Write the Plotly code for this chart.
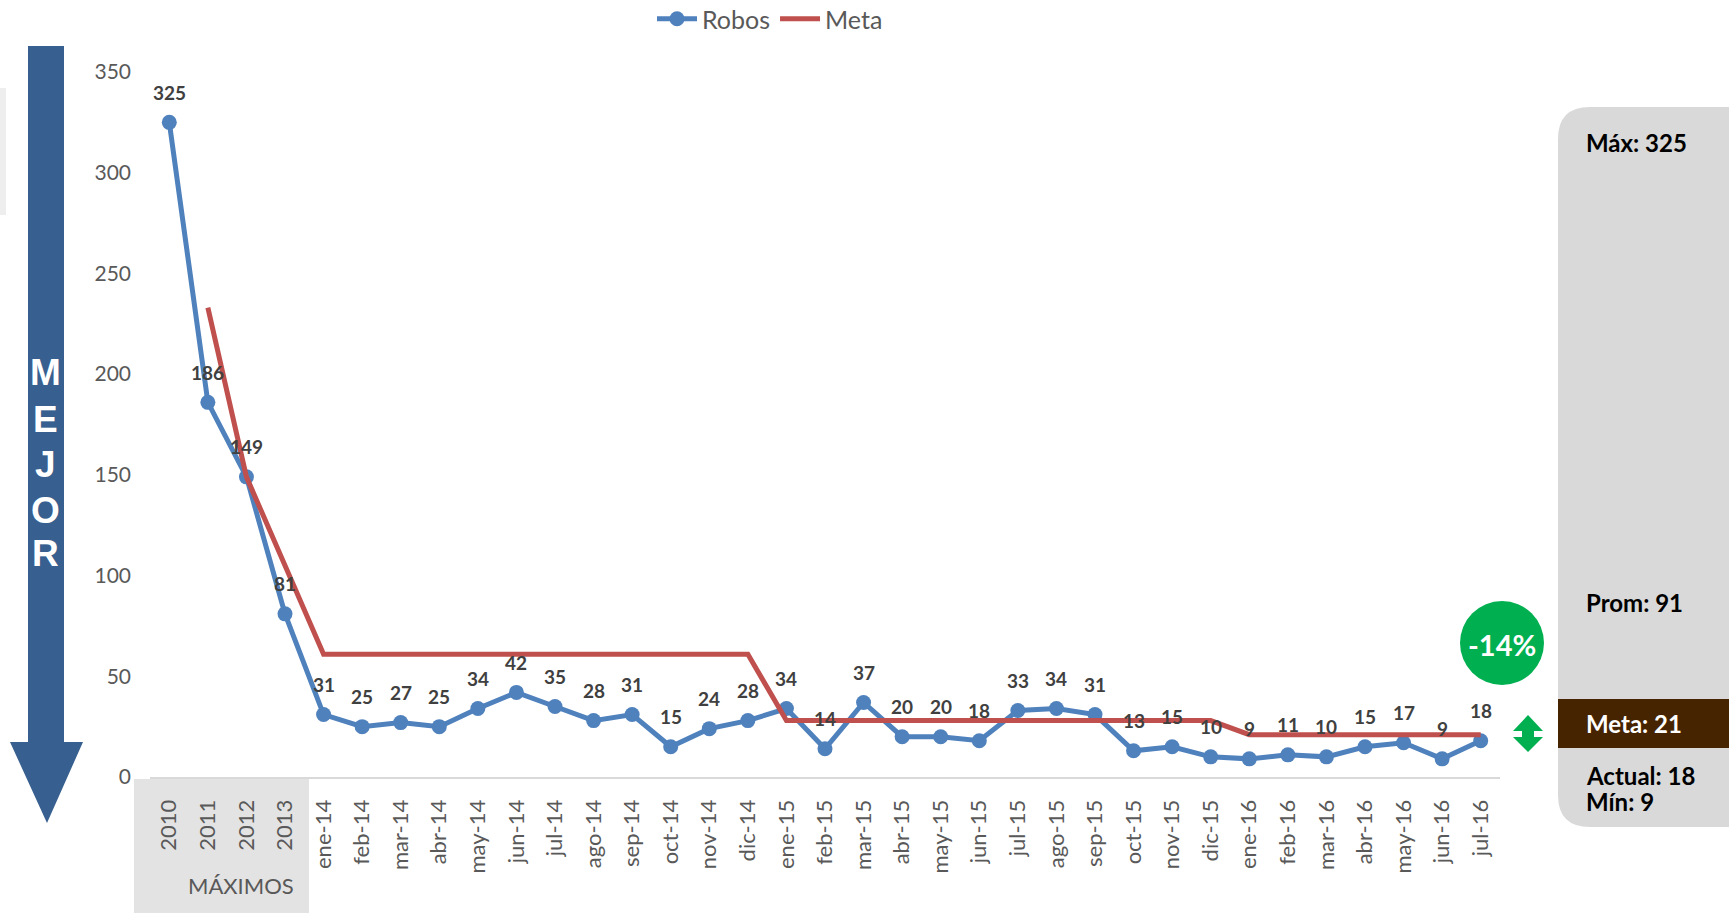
import plotly.graph_objects as go

# ---------------- data ----------------
categories = ["2010", "2011", "2012", "2013",
              "ene-14", "feb-14", "mar-14", "abr-14", "may-14", "jun-14", "jul-14", "ago-14",
              "sep-14", "oct-14", "nov-14", "dic-14",
              "ene-15", "feb-15", "mar-15", "abr-15", "may-15", "jun-15", "jul-15", "ago-15",
              "sep-15", "oct-15", "nov-15", "dic-15",
              "ene-16", "feb-16", "mar-16", "abr-16", "may-16", "jun-16", "jul-16"]
robos = [325, 186, 149, 81,
         31, 25, 27, 25, 34, 42, 35, 28, 31, 15, 24, 28,
         34, 14, 37, 20, 20, 18, 33, 34, 31, 13, 15, 10,
         9, 11, 10, 15, 17, 9, 18]
meta = [None, 233, 149, 105,
        61, 61, 61, 61, 61, 61, 61, 61, 61, 61, 61, 61,
        28, 28, 28, 28, 28, 28, 28, 28, 28, 28, 28, 28,
        21, 21, 21, 21, 21, 21, 21]
prom_text = "Prom: 91"
y_ticks = [0, 50, 100, 150, 200, 250, 300, 350]

# ---------------- geometry helpers ----------------
W, H = 1729, 913
L, R, T, B = 150, 229, 72, 136
PW, PH = W - L - R, H - T - B


def px(x):
    return (x - L) / PW


def py(y):
    return (H - B - y) / PH


BLUE = "#4F81BD"
RED = "#C0504D"
LABEL = "#404040"
GRAY_TXT = "#595959"
FONT = "Lato, 'Open Sans', sans-serif"

fig = go.Figure()
fig.add_trace(go.Scatter(
    x=categories, y=robos, name="Robos", mode="lines+markers",
    line=dict(color=BLUE, width=5), marker=dict(color=BLUE, size=15)))
fig.add_trace(go.Scatter(
    x=categories, y=meta, name="Meta", mode="lines",
    line=dict(color=RED, width=5)))

annotations = []
for i, v in enumerate(robos):
    annotations.append(dict(x=i, y=v, xref="x", yref="y", text=str(v), showarrow=False,
                            xanchor="center", yanchor="middle", yshift=30,
                            font=dict(family=FONT, size=19, color=LABEL, weight="bold")))


def note(x, y, text, font, xanchor="center"):
    annotations.append(dict(x=px(x), y=py(y), xref="paper", yref="paper", text=text,
                            showarrow=False, xanchor=xanchor, yanchor="middle", font=font))


shapes = []
# MÁXIMOS shaded box
shapes.append(dict(type="rect", xref="paper", yref="paper", layer="below",
                   x0=px(134), x1=px(309), y0=py(913), y1=py(779),
                   fillcolor="#E3E3E3", line=dict(width=0)))
note(241, 885, "MÁXIMOS", dict(family=FONT, size=22, color=GRAY_TXT))

# faint left edge element
shapes.append(dict(type="rect", xref="paper", yref="paper", layer="below",
                   x0=px(0), x1=px(6), y0=py(215), y1=py(88),
                   fillcolor="#EEEEEE", line=dict(width=0)))

# left "MEJOR" arrow
ARROW = "#375F8F"
pts = [(28, 46), (64, 46), (64, 742), (83, 742), (47, 823), (10, 742), (28, 742)]
path = "M " + " L ".join(f"{px(a)},{py(b)}" for a, b in pts) + " Z"
shapes.append(dict(type="path", xref="paper", yref="paper", path=path,
                   fillcolor=ARROW, line=dict(width=0)))
for letter, yy in zip("MEJOR", [373, 419, 464, 510, 553]):
    note(46, yy, letter, dict(family="Liberation Sans, Arial, sans-serif", size=37,
                              color="white", weight="bold"))

# right summary panel (rounded)
x0, x1, y0, y1, r = 1558, 1760, 107, 827, 32
ppts = (f"M {px(x0)},{py(y0 + r)} Q {px(x0)},{py(y0)} {px(x0 + r)},{py(y0)} "
        f"L {px(x1 - r)},{py(y0)} Q {px(x1)},{py(y0)} {px(x1)},{py(y0 + r)} "
        f"L {px(x1)},{py(y1 - r)} Q {px(x1)},{py(y1)} {px(x1 - r)},{py(y1)} "
        f"L {px(x0 + r)},{py(y1)} Q {px(x0)},{py(y1)} {px(x0)},{py(y1 - r)} Z")
shapes.append(dict(type="path", xref="paper", yref="paper", path=ppts,
                   fillcolor="#D9D9D9", line=dict(width=0)))
shapes.append(dict(type="rect", xref="paper", yref="paper",
                   x0=px(1558), x1=px(1740), y0=py(748), y1=py(699),
                   fillcolor="#472400", line=dict(width=0)))

meta_now = meta[-1]
actual = robos[-1]
panel_items = [
    (f"Máx: {max(robos)}", 142, "black"),
    (prom_text, 602, "black"),
    (f"Meta: {meta_now}", 723, "white"),
    (f"Actual: {actual}", 775, "black"),
    (f"Mín: {min(robos)}", 801, "black"),
]
for txt, yy, col in panel_items:
    note(1584, yy, txt, dict(family=FONT, size=24, color=col, weight="bold"), xanchor="left")

# green circle with variation
GREEN = "#00B050"
shapes.append(dict(type="circle", xref="paper", yref="paper",
                   x0=px(1460), x1=px(1544), y0=py(685), y1=py(601),
                   fillcolor=GREEN, line=dict(width=0)))
pct = round((actual - meta_now) / meta_now * 100)
note(1502, 644, f"{pct}%", dict(family=FONT, size=29, color="white", weight="bold"))

# green double arrow
dpts = [(1528, 715), (1543, 731), (1534, 731), (1534, 737), (1543, 737), (1528, 752),
        (1513, 737), (1522, 737), (1522, 731), (1513, 731)]
dpath = "M " + " L ".join(f"{px(a)},{py(b)}" for a, b in dpts) + " Z"
shapes.append(dict(type="path", xref="paper", yref="paper", path=dpath,
                   fillcolor=GREEN, line=dict(width=0)))

fig.update_layout(
    width=W, height=H, autosize=False,
    margin=dict(l=L, r=R, t=T, b=B, pad=0),
    plot_bgcolor="white", paper_bgcolor="white",
    font=dict(family=FONT, color=GRAY_TXT),
    showlegend=True,
    legend=dict(orientation="h", x=770 / W, xanchor="center", xref="container",
                y=1 - 19 / H, yanchor="middle", yref="container",
                font=dict(family=FONT, size=25, color=GRAY_TXT), bgcolor="rgba(0,0,0,0)",
                itemwidth=40, tracegroupgap=0),
    xaxis=dict(type="category", range=[-0.5, len(categories) - 0.5], showgrid=False,
               showline=True, linecolor="#D9D9D9", linewidth=2, zeroline=False,
               tickangle=-90, ticks="", ticklabelstandoff=12,
               tickfont=dict(family=FONT, size=22, color=GRAY_TXT)),
    yaxis=dict(range=[0, 350], tickvals=y_ticks, showgrid=False, zeroline=False,
               showline=False, ticks="", ticklabelstandoff=18,
               tickfont=dict(family=FONT, size=21, color=GRAY_TXT)),
    shapes=shapes, annotations=annotations,
)

fig.write_html("out.html", config={"displayModeBar": False},
               post_script="document.body.style.margin='0';")
